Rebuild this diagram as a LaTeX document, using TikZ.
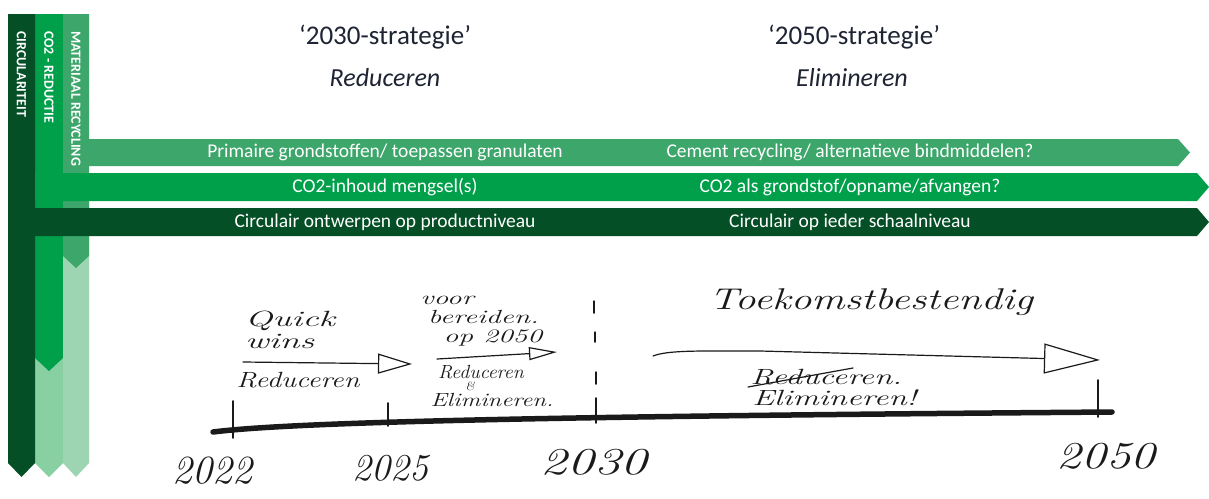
\documentclass[tikz,border=0pt]{standalone}
\usepackage{fontspec}
\newfontfamily\calfnt{Carlito}
\usetikzlibrary{arrows.meta}
\definecolor{dkg}{HTML}{054F27}
\definecolor{midg}{HTML}{00A04B}
\definecolor{matg}{HTML}{3DA66B}
\definecolor{ltone}{HTML}{88D0A2}
\definecolor{lttwo}{HTML}{9DD5B2}
\definecolor{headc}{HTML}{1E2433}
\definecolor{ink}{HTML}{1A1A1A}
\tikzset{
  vlabel/.style={rotate=-90, anchor=west, text=white, inner sep=0pt, font=\calfnt\bfseries\fontsize{14}{16}\selectfont},
  bandtext/.style={text=white, inner sep=0pt, font=\calfnt\fontsize{19.5}{22}\selectfont},
  headtext/.style={text=headc, inner sep=0pt, font=\calfnt\fontsize{27}{30}\selectfont},
  headital/.style={text=headc, inner sep=0pt, font=\calfnt\itshape\fontsize{26}{30}\selectfont},
  hand/.style={inner sep=0pt, text=ink, align=left, font=\itshape\fontsize{22}{20}\selectfont},
  yearlab/.style={inner sep=0pt, text=ink, font=\itshape\fontsize{38}{38}\selectfont},
  sketch/.style={draw=ink, line width=1.2pt, line cap=round},
  tick/.style={draw=ink, line width=1.8pt, line cap=round}
}
\begin{document}
\begin{tikzpicture}[x=1pt,y=-1pt]
\useasboundingbox[fill=white] (0,0) rectangle (1209,498);
% vertical bars
\fill[ltone] (35,300) -- (63,300) -- (63,463) -- (49,477) -- (35,463) -- cycle;
\fill[midg] (35,14) -- (63,14) -- (63,358) -- (49,371) -- (35,358) -- cycle;
\fill[lttwo] (63,200) -- (89,200) -- (89,463) -- (76,477) -- (63,463) -- cycle;
\fill[matg] (63,14) -- (89,14) -- (89,256) -- (76,268) -- (63,256) -- cycle;
\fill[dkg] (8,14) -- (35,14) -- (35,463) -- (21.5,477) -- (8,463) -- cycle;
% horizontal bands
\fill[matg] (89,139) -- (1178,139) -- (1190,152.5) -- (1178,166) -- (89,166) -- cycle;
\fill[midg] (35,173) -- (1197,173) -- (1209,187) -- (1197,201) -- (35,201) -- cycle;
\fill[dkg] (35,208) -- (1197,208) -- (1209,222) -- (1197,236) -- (35,236) -- cycle;
% vertical labels
\node[vlabel] (vc) at (21.5,31) {CIRCULARITEIT};
\node[vlabel] (vr) at (49,31) {CO2 - REDUCTIE};
\node[vlabel] (vm) at (76,31) {MATERIAAL RECYCLING};
% headers
\node[headtext] (h1) at (385,37) {‘2030-strategie’};
\node[headital] (h2) at (385,78) {Reduceren};
\node[headtext] (h3) at (854,37) {‘2050-strategie’};
\node[headital] (h4) at (852,78) {Elimineren};
% band texts
\node[bandtext] (b1) at (385,152.5) {Primaire grondstoffen/ toepassen granulaten};
\node[bandtext] (b2) at (385,187) {CO2-inhoud mengsel(s)};
\node[bandtext] (b3) at (385,222) {Circulair ontwerpen op productniveau};
\node[bandtext] (b4) at (850,152.5) {Cement recycling/ alternatieve bindmiddelen?};
\node[bandtext] (b5) at (850,187) {CO2 als grondstof/opname/afvangen?};
\node[bandtext] (b6) at (850,222) {Circulair op ieder schaalniveau};
% timeline
\coordinate (t0) at (213,432);
\coordinate (t1) at (1112,412);
\draw[draw=ink, line width=5.5pt, line cap=round] (t0) .. controls (300,421) and (600,416) .. (t1);
\coordinate (k1a) at (233,401); \coordinate (k1b) at (233,438);
\coordinate (k2a) at (388,403); \coordinate (k2b) at (388,426);
\coordinate (k3a) at (596,398); \coordinate (k3b) at (596,423);
\coordinate (k4a) at (1098,380); \coordinate (k4b) at (1098,417);
\draw[tick] (k1a) -- (k1b);
\draw[tick] (k2a) -- (k2b);
\draw[tick] (k3a) -- (k3b);
\draw[tick] (k4a) -- (k4b);
% dashed separator at 2030
\draw[sketch, line width=1.5pt] (594,301) -- (594,313) (595,332) -- (595,342) (596,372) -- (596,384);
% years
\node[yearlab, font=\itshape\fontsize{40}{40}\selectfont] (y1) at (212,471) {2022};
\node[yearlab] (y2) at (390,468) {2025};
\node[yearlab, xscale=1.4] (y3) at (594,462) {2030};
\node[yearlab, xscale=1.3] (y4) at (1106,456) {2050};
% phase 1
\node[hand, font=\itshape\fontsize{22}{22}\selectfont, xscale=1.65] (q1) at (290,330) {Quick\\wins};
\coordinate (a1s) at (243,362); \coordinate (a1e) at (412,364);
\draw[sketch, -{Triangle[open, length=34pt, width=20pt, line width=1.2pt]}] (a1s) -- (a1e);
\node[hand, xscale=1.3] (r1) at (298,380) {Reduceren};
% phase 2
\node[hand, anchor=north west, xscale=1.55, font=\itshape\fontsize{19}{19}\selectfont] (v2) at (420,296) {voor\\\hspace{5pt}bereiden.\\\hspace{15pt}op 2050};
\coordinate (a2s) at (437,359); \coordinate (a2e) at (557,352);
\draw[sketch, -{Triangle[open, length=28pt, width=13pt, line width=1.2pt]}] (a2s) -- (a2e);
\node[hand, xscale=1.05, font=\itshape\fontsize{19}{19}\selectfont] (r2a) at (481,372) {Reduceren};
\node[hand, font=\itshape\fontsize{12}{12}\selectfont] (r2b) at (470,386) {\&};
\node[hand, xscale=1.3, font=\itshape\fontsize{19}{19}\selectfont] (r2c) at (492,400) {Elimineren.};
% phase 3
\node[hand, xscale=1.38, font=\itshape\fontsize{30}{30}\selectfont] (f3) at (871,302) {Toekomstbestendig};
\coordinate (a3s) at (653,356); \coordinate (a3e) at (1100,360);
\draw[sketch, -{Triangle[open, length=56pt, width=30pt, line width=1.2pt]}] (a3s) .. controls (668,350) and (700,351) .. (760,351) -- (a3e);
\node[hand, anchor=west, xscale=1.5] (r3a) at (750,377) {Reduceren.};
\node[hand, anchor=west, xscale=1.5] (r3b) at (752,398) {Elimineren!};
\coordinate (s3a) at (748,387); \coordinate (s3b) at (853,368);
\draw[sketch] (s3a) -- (s3b);
\end{tikzpicture}
\end{document}
